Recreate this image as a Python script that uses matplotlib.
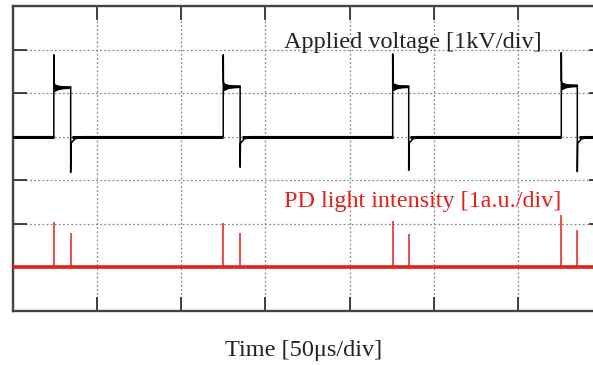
import numpy as np
import matplotlib.pyplot as plt
from matplotlib.ticker import MultipleLocator

# all values in scope divisions (x: 7 div, y: 7 div)
rise_t = [0.49, 2.50, 4.51, 6.51]
fall_t = [0.69, 2.70, 4.70, 6.70]
v_base = 4.0
v_spike = [5.88, 5.88, 5.90, 5.93]
v_plateau = [5.14, 5.16, 5.16, 5.18]
v_under = [3.18, 3.30, 3.23, 3.20]

pd_base = 1.0
pd_rise_peak = [2.04, 2.02, 2.07, 2.20]
pd_fall_peak = [1.79, 1.80, 1.77, 1.87]

# waveform shape after each edge (offset in div, level offset in div)
after_rise_dt = [0.002, 0.02]
after_rise_dv = [0.10, 0.0]
after_fall_dt = [0.004, 0.05, 0.15]
after_fall_dv = [-0.15, -0.05, 0.0]
ring_dt = [0.0, 0.02, 0.06, 0.12, 0.2]
ring_amp = [0.14, 0.11, 0.07, 0.05, 0.04]

xlabel = "Time [50\u03bcs/div]"
v_label = "Applied voltage [1kV/div]"
pd_label = "PD light intensity [1a.u./div]"

plt.rcParams['font.family'] = ['Liberation Serif', 'DejaVu Serif']

fig = plt.figure(figsize=(5.93, 3.65), dpi=100)
ax = fig.add_axes([12.5 / 593, 54 / 365, 590.1 / 593, 305 / 365])
ax.set_xlim(0, 7)
ax.set_ylim(0, 7)

# grid
ax.xaxis.set_major_locator(MultipleLocator(1))
ax.yaxis.set_major_locator(MultipleLocator(1))
ax.grid(True, color='#8c8c8c', linestyle=(0, (1.5, 1.8)), linewidth=0.9)
ax.tick_params(direction='in', length=10, width=1.3, color='#333333',
               top=True, right=True, labelbottom=False, labelleft=False)
for s in ax.spines.values():
    s.set_linewidth(1.7)
    s.set_color('#444444')

# applied voltage trace
xs, ys = [0.0], [v_base]
for i in range(len(rise_t)):
    xs += [rise_t[i], rise_t[i]]
    ys += [v_base, v_spike[i]]
    for dt, dv in zip(after_rise_dt, after_rise_dv):
        xs.append(rise_t[i] + dt); ys.append(v_plateau[i] + dv)
    xs += [fall_t[i], fall_t[i]]
    ys += [v_plateau[i], v_under[i]]
    for dt, dv in zip(after_fall_dt, after_fall_dv):
        xs.append(fall_t[i] + dt); ys.append(v_base + dv)
xs.append(7.0); ys.append(v_base)
ax.plot(xs, ys, color='black', linewidth=1.1, zorder=3)

# ringing on the plateau
for i in range(len(rise_t)):
    rx = [rise_t[i] + d for d in ring_dt] + [fall_t[i]]
    ra = np.array(ring_amp + [ring_amp[-1]])
    ax.fill_between(rx, v_plateau[i] - ra * 0.8, v_plateau[i] + ra * 0.6,
                    color='black', linewidth=0, zorder=3)

# thick (noisy) baselines
starts = [0.0] + [f + 0.02 for f in fall_t]
ends = rise_t + [7.0]
ax.hlines([v_base] * len(starts), starts, ends, color='black', linewidth=2.2, zorder=3)

# PD light intensity trace
ax.hlines(pd_base, 0, 7, color='#e3201c', linewidth=2.6, zorder=3)
ax.vlines(rise_t, pd_base, pd_rise_peak, color='#e3201c', linewidth=1.1, zorder=3)
ax.vlines(fall_t, pd_base, pd_fall_peak, color='#e3201c', linewidth=1.1, zorder=3)

ax.text(4.75, 6.04, v_label, ha='center', va='baseline', fontsize=17.5,
        color='#222222', zorder=4)
ax.text(4.87, 2.39, pd_label, ha='center', va='baseline', fontsize=17.4,
        color='#e3201c', zorder=4)
fig.text(304 / 593, 1 - 356 / 365, xlabel, ha='center', va='baseline',
         fontsize=17.5, color='#222222')

fig.savefig('out.png', dpi=100)
